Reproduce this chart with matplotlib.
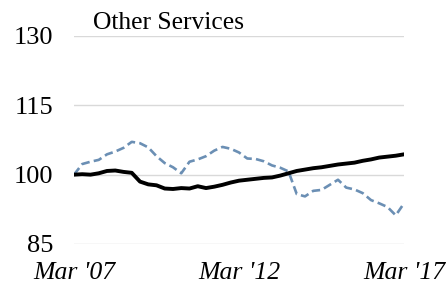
import matplotlib
matplotlib.use("Agg")
import matplotlib.pyplot as plt

quarters = list(range(41))
tick_positions = [0, 20, 40]
tick_labels = ["Mar '07", "Mar '12", "Mar '17"]
y_ticks = [85, 100, 115, 130]

solid_series = [100.0, 100.1, 100.0, 100.3, 100.8, 100.9, 100.6, 100.4, 98.5, 97.9,
                97.7, 97.0, 96.9, 97.1, 97.0, 97.5, 97.1, 97.4, 97.8, 98.3,
                98.7, 98.9, 99.1, 99.3, 99.4, 99.8, 100.3, 100.8, 101.1, 101.4,
                101.6, 101.9, 102.2, 102.4, 102.6, 103.0, 103.3, 103.7, 103.9, 104.1,
                104.4]
dashed_series = [100.0, 102.3, 102.8, 103.2, 104.4, 105.0, 105.8, 107.1, 106.8, 105.9,
                 104.0, 102.5, 101.6, 100.3, 102.8, 103.3, 104.0, 105.2, 106.0, 105.6,
                 104.8, 103.5, 103.4, 102.9, 102.0, 101.5, 100.7, 95.8, 95.3, 96.5,
                 96.7, 97.8, 98.9, 97.2, 96.8, 96.0, 94.5, 93.8, 93.0, 91.2,
                 93.8]

plt.rcParams['font.family'] = ['Liberation Serif', 'DejaVu Serif']

fig = plt.figure(figsize=(4.47, 2.88), dpi=100)
ax = fig.add_axes([74/447, 44/288, 330/447, 208/288])

ax.plot(quarters, dashed_series, color='#6b8fb4', lw=1.9, ls=(0, (3.2, 1.6)), zorder=3)
ax.plot(quarters, solid_series, color='black', lw=2.8, zorder=4, solid_capstyle='round')

ax.set_xlim(0, 40)
ax.set_ylim(85, 130)
ax.set_yticks(y_ticks)
ax.set_xticks(tick_positions)
ax.set_xticklabels(tick_labels, fontstyle='italic', fontsize=18.5)
ax.tick_params(axis='y', labelsize=19, length=0, pad=15)
ax.tick_params(axis='x', length=0, pad=13)
ax.grid(axis='y', color='#d9d9d9', lw=1)
ax.set_axisbelow(True)
for s in ax.spines.values():
    s.set_visible(False)

fig.text(93/447, 1 - 29/288, "Other Services", fontsize=18.4, ha='left', va='baseline')

fig.savefig("out.png", dpi=100)
